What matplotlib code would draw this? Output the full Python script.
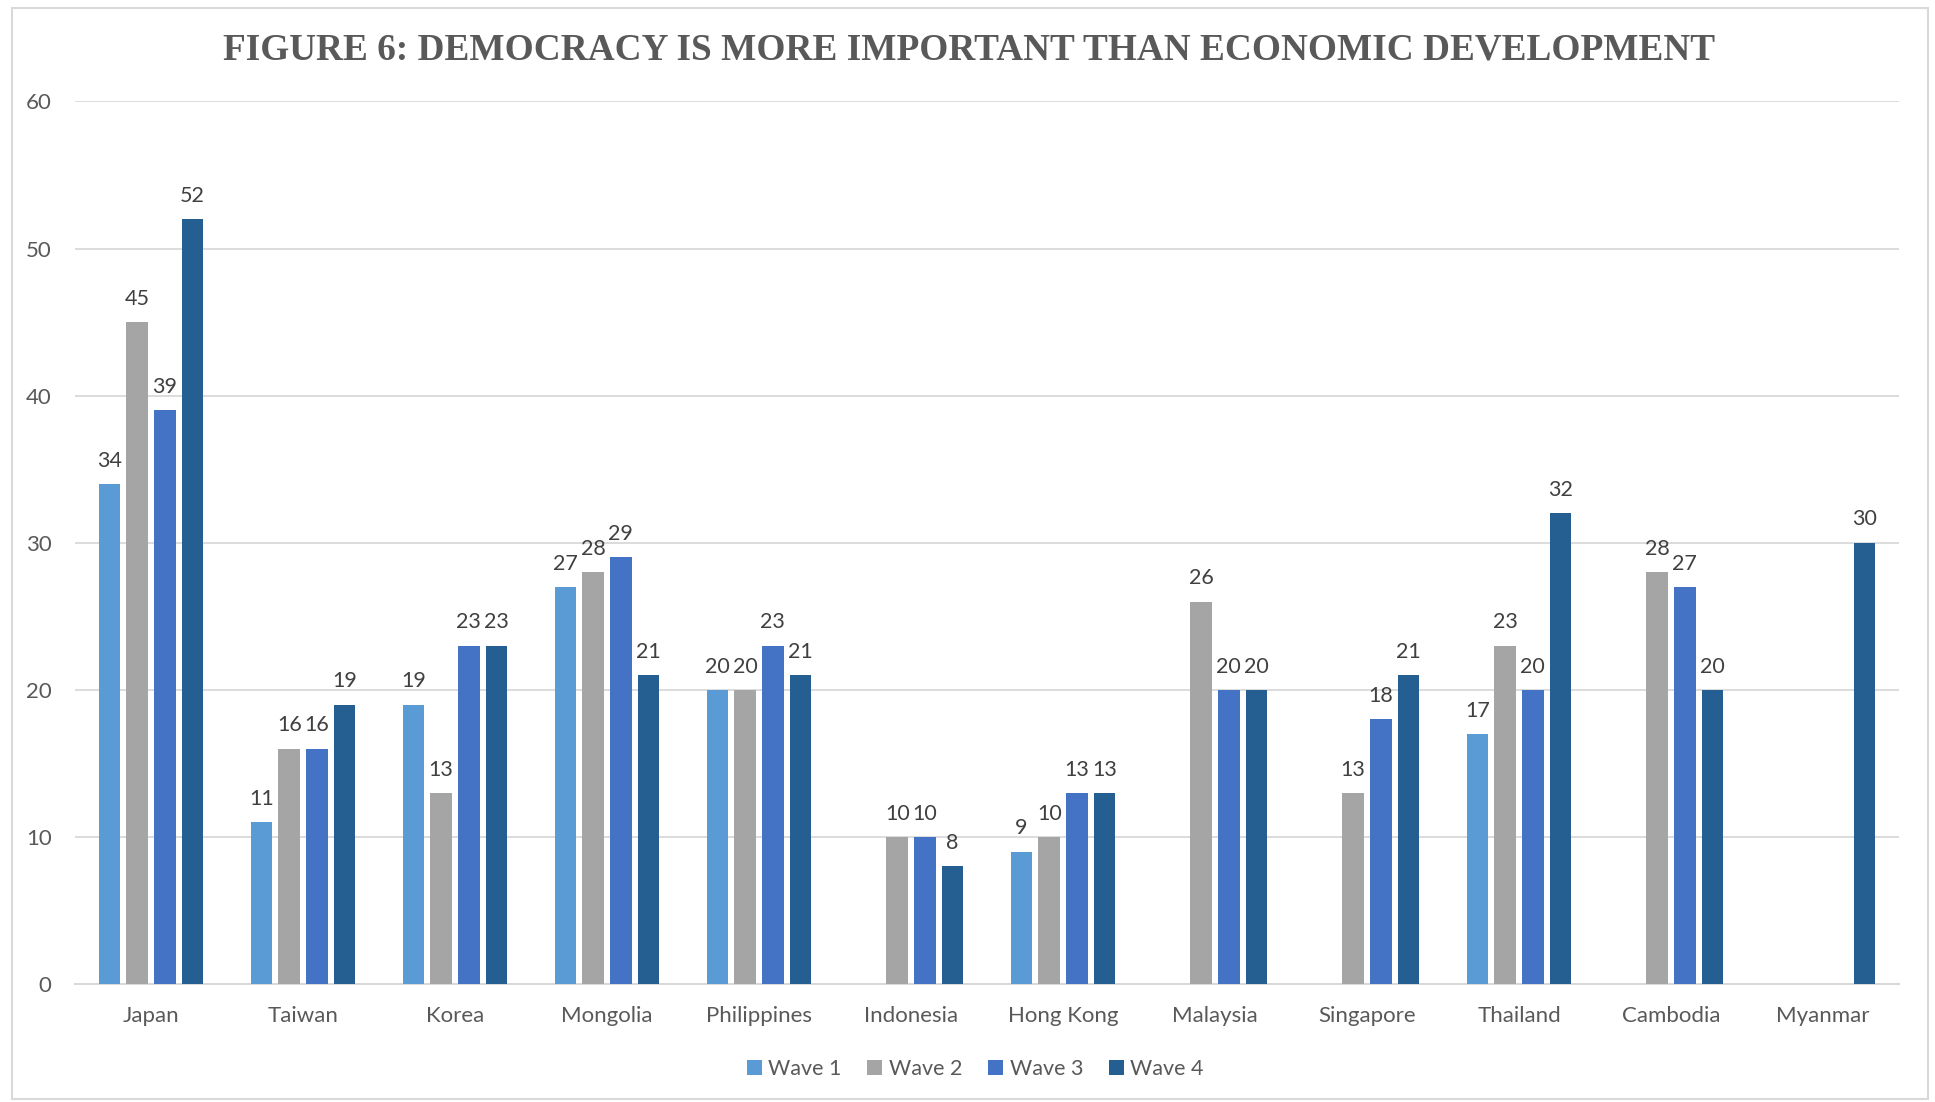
import numpy as np
from matplotlib import pyplot as plt
from matplotlib.patches import Rectangle

# Anteil (%) "Demokratie wichtiger als wirtschaftliche Entwicklung"
countries = ["Japan", "Taiwan", "Korea", "Mongolia", "Philippines", "Indonesia",
             "Hong Kong", "Malaysia", "Singapore", "Thailand", "Cambodia", "Myanmar"]
waves = ["Wave 1", "Wave 2", "Wave 3", "Wave 4"]
wave1 = [34, 11, 19, 27, 20, np.nan, 9, np.nan, np.nan, 17, np.nan, np.nan]
wave2 = [45, 16, 13, 28, 20, 10, 10, 26, 13, 23, 28, np.nan]
wave3 = [39, 16, 23, 29, 23, 10, 13, 20, 18, 20, 27, np.nan]
wave4 = [52, 19, 23, 21, 21, 8, 13, 20, 21, 32, 20, 30]
yticks = [0, 10, 20, 30, 40, 50, 60]

colors = ["#5B9BD5", "#A5A5A5", "#4472C4", "#255E91"]
text_color = "#595959"
font = "Lato"

fig = plt.figure(figsize=(19.35, 11.02), dpi=100)
ax = fig.add_axes([0.0388, 0.107, 0.9426, 0.801])

x = np.arange(len(countries))
step = 0.182
width = 0.143
for i, (vals, col, lab) in enumerate(zip([wave1, wave2, wave3, wave4], colors, waves)):
    pos = x + (i - 1.5) * step
    ax.bar(pos, vals, width=width, color=col, label=lab, zorder=3)
    for xp, v in zip(pos, vals):
        if not np.isnan(v):
            ax.text(xp, v + 0.9, f"{int(v)}", ha="center", va="bottom",
                    fontsize=15.5, color="#404040", family=font)

ax.set_xlim(-0.5, len(countries) - 0.5)
ax.set_ylim(0, 60)
ax.set_yticks(yticks)
ax.set_xticks(x)
ax.set_xticklabels(countries, fontsize=16, color=text_color, family=font)
ax.set_yticklabels([str(t) for t in yticks], fontsize=16, color=text_color, family=font)
ax.tick_params(axis="x", length=0, pad=16)
ax.tick_params(axis="y", length=0, pad=17)
ax.grid(axis="y", color="#D9D9D9", linewidth=1.3, zorder=0)
for s in ["top", "right", "left"]:
    ax.spines[s].set_visible(False)
ax.spines["bottom"].set_color("#D9D9D9")
ax.spines["bottom"].set_linewidth(1.5)

fig.text(0.501, 0.955, "FIGURE 6: DEMOCRACY IS MORE IMPORTANT THAN ECONOMIC DEVELOPMENT",
         ha="center", va="center", fontsize=26.8, fontweight="bold",
         color=text_color, family="Liberation Serif")

fig.legend(loc="center", bbox_to_anchor=(0.504, 0.030), ncol=4, frameon=False,
           prop={"family": font, "size": 15.5}, handlelength=0.7, handleheight=0.7,
           handletextpad=0.3, columnspacing=1.2, labelcolor=text_color)

# heller Rahmen um die ganze Grafik
fig.patches.append(Rectangle((12 / 1935, 0.003), 1916 / 1935, 0.99, transform=fig.transFigure,
                             fill=False, edgecolor="#D9D9D9", linewidth=1.5))

plt.savefig("out.png", dpi=100)
